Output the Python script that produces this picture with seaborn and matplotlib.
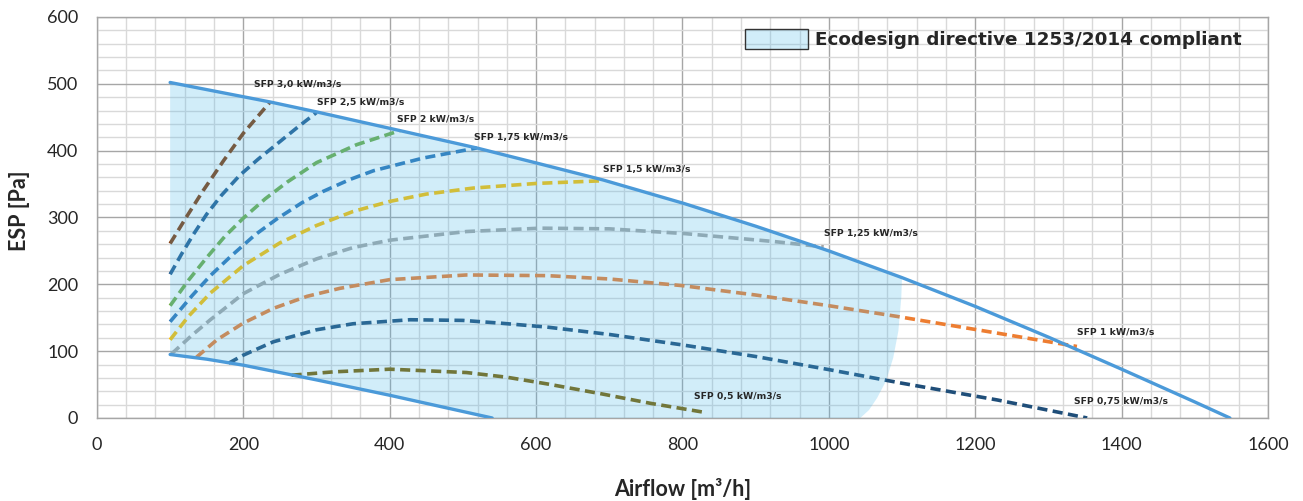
import matplotlib
matplotlib.use("Agg")
import matplotlib.pyplot as plt
from matplotlib.ticker import MultipleLocator
from matplotlib.patches import Patch
from matplotlib.colors import to_rgba
import pandas as pd
import seaborn as sns

# ---- working-range envelope -------------------------------------------------
max_x = [100, 236, 300, 414, 519, 606, 692, 802, 900, 1000, 1100, 1200, 1300, 1400, 1500, 1548]
max_y = [502, 473, 458, 430, 404, 380, 356, 321, 287, 250, 210, 167, 121, 73, 24, 0]

min_x = [100, 150, 200, 300, 400, 540]
min_y = [95, 88, 79, 57, 34, 0]

# right-hand edge of the compliant zone
edge_x = [1100, 1099, 1095, 1088, 1078, 1066, 1055, 1043]
edge_y = [210, 180, 130, 90, 55, 30, 12, 0]

# ---- SFP iso-lines ------------------------------------------------------------
sfp_30_x = [100, 123, 145, 173, 200, 236]
sfp_30_y = [261, 302, 340, 385, 426, 472]

sfp_25_x = [100, 116, 132, 150, 170, 195, 220, 246, 273, 300]
sfp_25_y = [215, 246, 275, 305, 333, 363, 387, 410, 434, 457]

sfp_20_x = [100, 125, 150, 175, 200, 230, 260, 300, 355, 414]
sfp_20_y = [168, 206, 240, 272, 299, 328, 353, 382, 409, 430]

sfp_175_x = [100, 130, 155, 182, 216, 246, 280, 309, 346, 378, 446, 519]
sfp_175_y = [144, 183, 213, 241, 274, 298, 322, 339, 357, 370, 389, 404]

sfp_15_x = [100, 125, 155, 200, 250, 300, 350, 400, 450, 514, 601, 692]
sfp_15_y = [117, 152, 187, 228, 262, 288, 309, 324, 335, 344, 351, 355]

sfp_125_x = [102, 130, 155, 200, 250, 300, 350, 400, 505, 606, 700, 802, 925, 993]
sfp_125_y = [96, 124, 147, 186, 215, 238, 255, 266, 279, 284, 283, 276, 264, 256]

sfp_10_x = [136, 164, 200, 241, 287, 332, 400, 505, 615, 700, 800, 900, 1000, 1093, 1230, 1339]
sfp_10_y = [91, 117, 142, 164, 182, 194, 207, 214, 213, 208, 198, 184, 168, 152, 127, 107]

sfp_075_x = [180, 200, 241, 300, 350, 428, 500, 550, 615, 700, 802, 900, 1002, 1100, 1230, 1353]
sfp_075_y = [82, 94, 114, 132, 141, 147, 146, 142, 136, 125, 109, 92, 72, 52, 27, 0]

sfp_05_x = [266, 323, 400, 505, 560, 615, 690, 756, 827]
sfp_05_y = [64, 69, 73, 68, 61, 51, 36, 22, 9]

sfp_names = ["SFP 3,0 kW/m3/s", "SFP 2,5 kW/m3/s", "SFP 2 kW/m3/s",
             "SFP 1,75 kW/m3/s", "SFP 1,5 kW/m3/s", "SFP 1,25 kW/m3/s",
             "SFP 1 kW/m3/s", "SFP 0,75 kW/m3/s", "SFP 0,5 kW/m3/s"]
sfp_xs = [sfp_30_x, sfp_25_x, sfp_20_x, sfp_175_x, sfp_15_x,
          sfp_125_x, sfp_10_x, sfp_075_x, sfp_05_x]
sfp_ys = [sfp_30_y, sfp_25_y, sfp_20_y, sfp_175_y, sfp_15_y,
          sfp_125_y, sfp_10_y, sfp_075_y, sfp_05_y]

sfp_colors = ["#843C0C", "#255E91", "#70AD47", "#2E75B6", "#FFC000",
              "#A5A5A5", "#ED7D31", "#1F4E79", "#7F6000"]
# label offsets (points) from the end of each iso-line
label_offsets = [(-11.3, 13), (0, 7.6), (-2.4, 8.2), (-1.9, 7.9), (0, 8.4),
                 (0, 9.8), (0, 10.4), (-9.6, 12), (-6, 10.8)]

x_ticks = [0, 200, 400, 600, 800, 1000, 1200, 1400, 1600]
y_ticks = [0, 100, 200, 300, 400, 500, 600]
legend_label = "Ecodesign directive 1253/2014 compliant"

# ---- tidy frames --------------------------------------------------------------
frames = []
for name, xs, ys in zip(sfp_names, sfp_xs, sfp_ys):
    frames.append(pd.DataFrame({"airflow": xs, "esp": ys, "curve": name}))
sfp_df = pd.concat(frames, ignore_index=True)

env_df = pd.concat([
    pd.DataFrame({"airflow": max_x, "esp": max_y, "curve": "max"}),
    pd.DataFrame({"airflow": min_x, "esp": min_y, "curve": "min"}),
], ignore_index=True)

# ---- figure -------------------------------------------------------------------
sns.set_style("white")
plt.rcParams["font.family"] = ["DejaVu Sans"]

fig = plt.figure(figsize=(13.03, 5.01), dpi=100)
ax = fig.add_axes([0.0744, 0.1657, 0.8987, 0.8004])

ax.set_xlim(0, 1600)
ax.set_ylim(0, 600)
ax.xaxis.set_minor_locator(MultipleLocator(40))
ax.yaxis.set_minor_locator(MultipleLocator(20))
ax.set_xticks(x_ticks)
ax.set_yticks(y_ticks)
ax.grid(which="major", color="#A6A6A6", linewidth=1.0, zorder=0)
ax.grid(which="minor", color="#D9D9D9", linewidth=1.0, zorder=0)
ax.set_axisbelow(True)
for s in ax.spines.values():
    s.set_color("#A6A6A6")
    s.set_linewidth(1.0)

ax.tick_params(which="both", length=0)
ax.tick_params(axis="y", pad=13.5)
ax.tick_params(axis="x", pad=14)
for lab in ax.get_xticklabels() + ax.get_yticklabels():
    lab.set_fontfamily("Lato")
    lab.set_fontsize(13)
    lab.set_color("#262626")

# iso-lines
sns.lineplot(data=sfp_df, x="airflow", y="esp", hue="curve", style="curve",
             palette=dict(zip(sfp_names, sfp_colors)),
             dashes={n: (2.8, 1.5) for n in sfp_names},
             linewidth=2.6, sort=False, estimator=None, legend=False,
             ax=ax, zorder=3)
for line in ax.lines:
    line.set_dash_capstyle("butt")
    line.set_dash_joinstyle("round")

# compliant zone, translucent over the grid and iso-lines
zone_color = to_rgba("#4BB9EB", 0.25)
top_x = [x for x in max_x if x <= edge_x[0]]
top_y = [y for x, y in zip(max_x, max_y) if x <= edge_x[0]]
poly_x = top_x + edge_x + min_x[::-1]
poly_y = top_y + edge_y + min_y[::-1]
ax.fill(poly_x, poly_y, color=zone_color, linewidth=0, zorder=4)

# envelope curves
sns.lineplot(data=env_df, x="airflow", y="esp", units="curve", color="#4B9AD9",
             linewidth=2.4, sort=False, estimator=None, legend=False,
             ax=ax, zorder=5)

# iso-line labels
for name, xs, ys, off in zip(sfp_names, sfp_xs, sfp_ys, label_offsets):
    ax.annotate(name, xy=(xs[-1], ys[-1]), xytext=off, textcoords="offset points",
                ha="left", va="center", fontsize=6.7, fontweight="bold",
                color="#262626", zorder=6)

ax.set_xlabel("Airflow [m³/h]", fontfamily="Lato", fontweight="bold",
              fontsize=15.5, color="#262626")
ax.set_ylabel("ESP [Pa]", fontfamily="Lato", fontweight="bold",
              fontsize=15.5, color="#262626")
ax.xaxis.set_label_coords(0.5, -0.15)
ax.yaxis.set_label_coords(-0.057, 0.516)

handle = Patch(facecolor=zone_color, edgecolor="#333333", linewidth=1.0)
leg = ax.legend([handle], [legend_label], loc="center left",
                bbox_to_anchor=(0.5534, 0.945), frameon=False, borderpad=0,
                borderaxespad=0, handlelength=3.4, handleheight=1.25,
                handletextpad=0.4,
                prop={"family": "DejaVu Sans", "weight": "bold", "size": 13.25})
for t in leg.get_texts():
    t.set_color("#262626")

fig.savefig("out.png", dpi=100)
